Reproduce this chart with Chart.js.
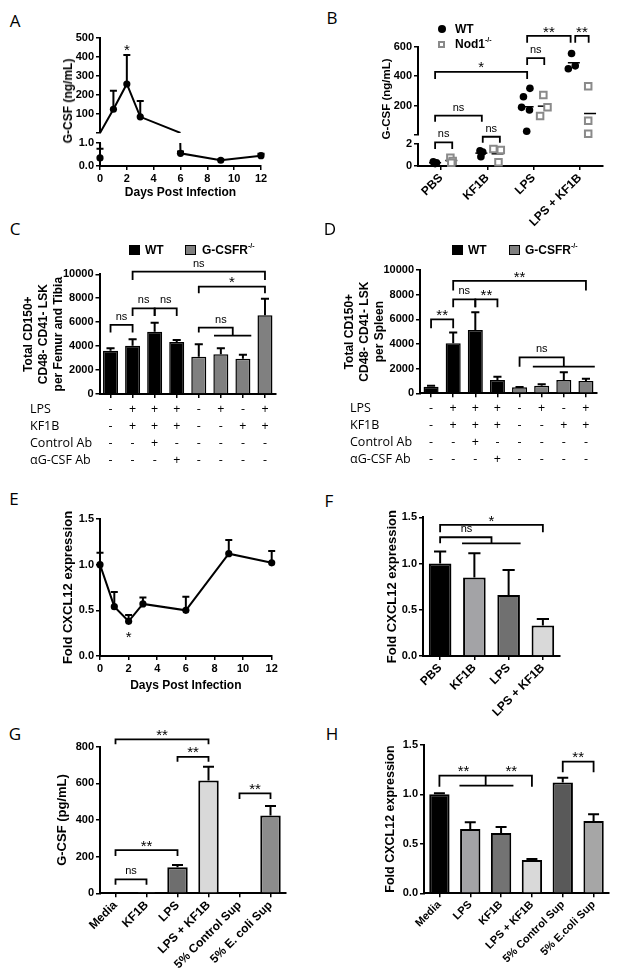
<!DOCTYPE html>
<html><head><meta charset="utf-8">
<script src="https://cdn.jsdelivr.net/npm/chart.js@4.4.1/dist/chart.umd.min.js"></script>
<style>
html,body{margin:0;padding:0;background:#fff;}
#fig{position:relative;width:617px;height:974px;overflow:hidden;background:#fff;}
#fig canvas{position:absolute;}
.pl{position:absolute;font-family:'Open Sans',sans-serif;font-size:17px;line-height:1;color:#000;transform:translate(-50%,-50%);}
.yt{position:absolute;font-family:'Liberation Sans',Arial,sans-serif;font-weight:bold;white-space:nowrap;line-height:1;transform:translate(-50%,-50%) rotate(-90deg);}
.lg{position:absolute;font-family:'Liberation Sans',Arial,sans-serif;font-weight:bold;font-size:12px;white-space:nowrap;line-height:1;transform:translateY(-50%);}
.lg sup{font-size:7px;vertical-align:top;position:relative;top:-2px;}
.sw{position:absolute;box-sizing:border-box;}
</style></head>
<body><div id="fig"></div>
<script>
// ================= DATA =================
// Panel A : serum G-CSF (ng/mL) over days post infection
const daysA = [0, 1, 2, 3, 6, 9, 12];
const gcsfSerum = [0.35, 125, 258, 85, 0.55, 0.25, 0.45];
const gcsfSerumErr = [0.4, 97, 152, 83, 0.08, 0.03, 0.08];

// Panel B : G-CSF (ng/mL), WT vs Nod1-/-
const groupsB = ['PBS', 'KF1B', 'LPS', 'LPS + KF1B'];
const wtB = [[0.38, 0.30, 0.22], [1.39, 1.27, 0.85], [317, 260, 188, 170, 25], [554, 470, 450]];
const wtBJitter = [[-0.17, -0.10, -0.13], [-0.16, -0.10, -0.14], [-0.08, -0.22, -0.26, -0.09, -0.15], [-0.18, -0.10, -0.25]];
const nodB = [[0.75, 0.45, 0.30], [1.55, 1.45, 0.33], [271, 188, 129], [332, 97, 8]];
const nodBJitter = [[0.20, 0.25, 0.22], [0.13, 0.29, 0.24], [0.21, 0.30, 0.14], [0.18, 0.18, 0.18]];
const wtBMean = [0.30, 1.17, 192, 491];
const nodBMean = [0.50, 1.11, 196, 146];
const meanJitterB = [-0.13, 0.22];

// Panels C, D : treatment table
const rowNamesCD = ['LPS', 'KF1B', 'Control Ab', 'αG-CSF Ab'];
const lpsRow =    ['-', '+', '+', '+', '-', '+', '-', '+'];
const kf1bRow =   ['-', '+', '+', '+', '-', '-', '+', '+'];
const ctrlAbRow = ['-', '-', '+', '-', '-', '-', '-', '-'];
const antiAbRow = ['-', '-', '-', '+', '-', '-', '-', '-'];
const genotypeCD = ['WT', 'WT', 'WT', 'WT', 'G-CSFR-/-', 'G-CSFR-/-', 'G-CSFR-/-', 'G-CSFR-/-'];
const hscFemur =    [3620, 4040, 5210, 4350, 3120, 3320, 2950, 6580];
const hscFemurErr = [200, 530, 750, 170, 1030, 500, 330, 1370];
const hscSpleen =    [540, 4050, 5140, 1080, 490, 620, 1080, 1000];
const hscSpleenErr = [80, 890, 1430, 270, 30, 110, 620, 190];

// Panel E : CXCL12 over days
const daysE = [0, 1, 2, 3, 6, 9, 12];
const cxclDays = [1.0, 0.54, 0.38, 0.57, 0.50, 1.12, 1.02];
const cxclDaysErr = [0.13, 0.16, 0.07, 0.07, 0.15, 0.15, 0.13];

// Panel F
const labelsF = ['PBS', 'KF1B', 'LPS', 'LPS + KF1B'];
const cxclF = [1.0, 0.85, 0.66, 0.33];
const cxclFErr = [0.13, 0.26, 0.27, 0.07];

// Panel G
const labelsG = ['Media', 'KF1B', 'LPS', 'LPS + KF1B', '5% Control Sup', '5% E. coli Sup'];
const gcsfG = [3, 2, 142, 615, 0, 424];
const gcsfGErr = [1, 1, 13, 76, 0, 52];

// Panel H
const labelsH = ['Media', 'LPS', 'KF1B', 'LPS + KF1B', '5% Control Sup', '5% E.coli Sup'];
const cxclH = [1.0, 0.65, 0.61, 0.337, 1.118, 0.73];
const cxclHErr = [0.01, 0.067, 0.06, 0.01, 0.05, 0.068];

// Significance annotations (data units: x = category index, y = axis value)
const sigA = {texts: [{x: 2, y: 455, t: '*'}]};
const sigBLow = {brackets: [
  {x1: -0.13, x2: 0.24, y: 2.15, l1: 1.55, l2: 1.55, t: 'ns'},
  {x1: 0.90, x2: 1.27, y: 2.66, l1: 2.12, l2: 2.12, t: 'ns'}]};
const sigBHigh = {brackets: [
  {x1: -0.13, x2: 0.88, y: 131, l1: 90, l2: 90, t: 'ns'},
  {x1: -0.13, x2: 1.86, y: 429, l1: 380, l2: 380, t: '*'},
  {x1: 1.86, x2: 2.23, y: 522, l1: 475, l2: 475, t: 'ns'},
  {x1: 1.86, x2: 2.80, y: 673, l1: 626, l2: 626, t: '**'},
  {x1: 2.90, x2: 3.19, y: 673, l1: 626, l2: 626, t: '**'}]};
const sigC = {brackets: [
  {x1: 0, x2: 1, y: 5770, l1: 5130, l2: 5130, t: 'ns'},
  {x1: 1, x2: 2, y: 7160, l1: 6520, l2: 6520, t: 'ns'},
  {x1: 2, x2: 3, y: 7160, l1: 6520, l2: 6520, t: 'ns'},
  {x1: 4, x2: 5.54, y: 5540, l1: 5130, l2: 4875, t: 'ns', tx: 5.0},
  {x1: 4, x2: 7, y: 8970, l1: 8410, l2: 8410, t: '*'},
  {x1: 1, x2: 7, y: 10220, l1: 9530, l2: 9530, t: 'ns'}],
  hlines: [{x1: 4.69, x2: 6.38, y: 4875}]};
const sigD = {brackets: [
  {x1: 0, x2: 1, y: 6000, l1: 5270, l2: 5270, t: '**'},
  {x1: 1, x2: 2, y: 7620, l1: 6970, l2: 6970, t: 'ns'},
  {x1: 2, x2: 3, y: 7620, l1: 6970, l2: 6970, t: '**'},
  {x1: 1, x2: 7, y: 9110, l1: 8330, l2: 8330, t: '**'},
  {x1: 4, x2: 6, y: 2920, l1: 2160, l2: 2160, t: 'ns'}],
  hlines: [{x1: 4.6, x2: 7.4, y: 2160}]};
const sigE = {texts: [{x: 2, y: 0.25, t: '*'}]};
const sigF = {brackets: [
  {x1: 0, x2: 3, y: 1.417, l1: 1.338, l2: 1.338, t: '*'},
  {x1: 0, x2: 1.5, y: 1.284, l1: 1.219, l2: 1.219, t: 'ns', tx: 0.77}],
  hlines: [{x1: 0.64, x2: 2.35, y: 1.219}]};
const sigG = {brackets: [
  {x1: 0, x2: 3, y: 840, l1: 814, l2: 814, t: '**'},
  {x1: 2, x2: 3, y: 745, l1: 718, l2: 718, t: '**'},
  {x1: 4, x2: 5, y: 545, l1: 514, l2: 514, t: '**'},
  {x1: 0, x2: 2, y: 236, l1: 204, l2: 204, t: '**'},
  {x1: 0, x2: 1, y: 76, l1: 46, l2: 46, t: 'ns'}]};
const sigH = {brackets: [
  {x1: 0, x2: 3, y: 1.189, l1: 1.077, l2: 1.077},
  {x1: 4, x2: 5, y: 1.33, l1: 1.222, l2: 1.222, t: '**'}],
  hlines: [{x1: 0.65, x2: 2.4, y: 1.087}],
  vlines: [{x: 1.5, y1: 1.189, y2: 1.087}],
  texts: [{x: 0.78, y: 1.189, t: '**', above: true}, {x: 2.33, y: 1.189, t: '**', above: true}]};

// ================= STYLE / HELPERS =================
const FONT = "'Liberation Sans', Arial, Helvetica, sans-serif";
Chart.defaults.font.family = FONT;
Chart.defaults.color = '#000';
Chart.defaults.plugins.legend.display = false;
Chart.defaults.plugins.tooltip.enabled = false;
const genoColor = {'WT': '#000000', 'G-CSFR-/-': '#808080'};
const fig = document.getElementById('fig');

function makeChart(box, area, cfg) {
  const cv = document.createElement('canvas');
  cv.width = box.w; cv.height = box.h;
  Object.assign(cv.style, {left: box.x + 'px', top: box.y + 'px', width: box.w + 'px', height: box.h + 'px'});
  fig.appendChild(cv);
  const o = cfg.options;
  o.responsive = false; o.maintainAspectRatio = false; o.animation = false; o.devicePixelRatio = 1; o.events = [];
  const xShown = o.scales.x.display !== false;
  o.layout = {padding: {left: 0, top: area.t - box.y, right: box.x + box.w - area.r, bottom: xShown ? 0 : box.y + box.h - area.b}};
  o.scales.y.afterFit = s => { s.width = area.l - box.x; };
  if (xShown) o.scales.x.afterFit = s => { s.height = box.y + box.h - area.b; };
  return new Chart(cv, cfg);
}
const gridOpts = (offset) => ({offset, drawOnChartArea: false, drawTicks: true, tickLength: 4, color: '#000', lineWidth: 1.5});
const borderOpts = {display: true, color: '#000', width: 2};
function axisY(min, max, step, fmt, title) {
  return {type: 'linear', position: 'left', min, max,
    ticks: {stepSize: step, font: {size: 11, weight: 'bold'}, padding: 2, color: '#000', callback: fmt},
    grid: gridOpts(false), border: borderOpts, title: title || {display: false}};
}
function yTitle(text, size, lh, padTop) {
  return {display: true, text, color: '#000', font: {size, weight: 'bold', lineHeight: lh}, padding: {top: padTop, bottom: 0}};
}
function axisXBar(show, rot, size) {
  return {type: 'category', offset: true,
    ticks: {display: show, autoSkip: false, minRotation: rot, maxRotation: rot, font: {size, weight: 'bold'}, padding: 1, color: '#000'},
    grid: gridOpts(false), border: borderOpts};
}
function axisXDays(show) {
  return {type: 'linear', min: 0, max: 12, display: show,
    afterBuildTicks: s => { s.ticks = daysTicks.map(v => ({value: v})); },
    ticks: {autoSkip: false, maxRotation: 0, font: {size: 11, weight: 'bold'}, padding: 2, color: '#000'},
    grid: gridOpts(false), border: borderOpts,
    title: {display: true, text: 'Days Post Infection', color: '#000', font: {size: 12, weight: 'bold'}, padding: {top: 0, bottom: 2}}};
}
const daysTicks = [0, 2, 4, 6, 8, 10, 12];
const fmt1 = v => v.toFixed(1);
const fmtInt = v => String(v);
const fmtNoZero = v => v === 0 ? '' : String(v);

function drawMark(ctx, t, x, yc) {
  const star = t.indexOf('*') >= 0;
  const size = star ? 15 : 11;
  ctx.font = size + 'px ' + FONT;
  ctx.fillStyle = '#000'; ctx.textAlign = 'center'; ctx.textBaseline = 'alphabetic';
  ctx.fillText(t, x, yc + (star ? 0.57 : 0.26) * size);
}
const errorBars = {
  id: 'errorBars',
  afterDatasetsDraw(chart) {
    const ctx = chart.ctx, ys = chart.scales.y, a = chart.chartArea;
    chart.data.datasets.forEach((ds, di) => {
      if (!ds.errors) return;
      const meta = chart.getDatasetMeta(di);
      ctx.save();
      ctx.beginPath(); ctx.rect(a.left - 12, a.top - 2, a.right - a.left + 24, a.bottom - a.top + 2); ctx.clip();
      ctx.strokeStyle = '#000'; ctx.lineWidth = 2;
      meta.data.forEach((el, i) => {
        const raw = ds.data[i]; const v = typeof raw === 'object' ? raw.y : raw; const e = ds.errors[i];
        if (!e || v < ys.min + (ys.max - ys.min) * 0.02 || v > ys.max) return;
        const y0 = ys.getPixelForValue(v), y1 = ys.getPixelForValue(v + e);
        const cap = el.width ? el.width * 0.27 : 3.5;
        ctx.beginPath(); ctx.moveTo(el.x, y0); ctx.lineTo(el.x, y1);
        ctx.moveTo(el.x - cap, y1); ctx.lineTo(el.x + cap, y1); ctx.stroke();
      });
      ctx.restore();
    });
  }
};
function marks(sig) {
  return {id: 'marks', afterDraw(chart) {
    const ctx = chart.ctx, xs = chart.scales.x, ys = chart.scales.y;
    const px = v => xs.getPixelForValue(v), py = v => ys.getPixelForValue(v);
    ctx.save(); ctx.strokeStyle = '#000'; ctx.lineWidth = 1.8; ctx.lineJoin = 'miter'; ctx.lineCap = 'butt';
    (sig.brackets || []).forEach(b => {
      ctx.beginPath(); ctx.moveTo(px(b.x1), py(b.l1)); ctx.lineTo(px(b.x1), py(b.y));
      ctx.lineTo(px(b.x2), py(b.y)); ctx.lineTo(px(b.x2), py(b.l2)); ctx.stroke();
      if (b.t) drawMark(ctx, b.t, px(b.tx !== undefined ? b.tx : (b.x1 + b.x2) / 2), py(b.y) - 8);
    });
    (sig.hlines || []).forEach(l => { ctx.beginPath(); ctx.moveTo(px(l.x1), py(l.y)); ctx.lineTo(px(l.x2), py(l.y)); ctx.stroke(); });
    (sig.vlines || []).forEach(l => { ctx.beginPath(); ctx.moveTo(px(l.x), py(l.y1)); ctx.lineTo(px(l.x), py(l.y2)); ctx.stroke(); });
    (sig.texts || []).forEach(t => drawMark(ctx, t.t, px(t.x), py(t.y) - (t.above ? 8 : 0)));
    ctx.restore();
  }};
}
function conditions(rows, headerX) {
  return {id: 'conditions', afterDraw(chart) {
    const ctx = chart.ctx, xs = chart.scales.x, a = chart.chartArea;
    ctx.save(); ctx.fillStyle = '#000'; ctx.font = "12.5px 'Open Sans', sans-serif"; ctx.textBaseline = 'middle';
    rows.forEach((row, r) => {
      const y = a.bottom + 15 + r * 17;
      ctx.textAlign = 'left'; ctx.fillText(rowNamesCD[r], headerX, y);
      ctx.textAlign = 'center';
      row.forEach((s, i) => ctx.fillText(s, xs.getPixelForValue(i), y));
    });
    ctx.restore();
  }};
}

// ================= PANEL A (broken axis: two stacked charts) =================
const ptsA = daysA.map((d, i) => ({x: d, y: gcsfSerum[i]}));
function lineDataset(points, errs, radiusFn, segFn, clip) {
  return {data: points, errors: errs, borderColor: '#000', backgroundColor: '#000', borderWidth: 2,
    pointRadius: radiusFn, pointBorderWidth: 0, tension: 0, clip,
    segment: segFn ? {borderColor: segFn} : undefined};
}
makeChart({x: 40, y: 25, w: 240, h: 118}, {l: 100, t: 38, r: 261, b: 133}, {
  type: 'line',
  data: {datasets: [lineDataset(ptsA, gcsfSerumErr, c => c.raw.y < 10 ? 0 : 3.6,
    c => (c.p0.parsed.y < 10 && c.p1.parsed.y < 10) ? 'rgba(0,0,0,0)' : '#000', {left: 6, right: 6, top: 0, bottom: 0})]},
  options: {scales: {x: Object.assign(axisXDays(false), {display: false}), y: axisY(0, 500, 100, fmtNoZero)}},
  plugins: [errorBars, marks(sigA)]
});
makeChart({x: 40, y: 133, w: 240, h: 69}, {l: 100, t: 143, r: 261, b: 166}, {
  type: 'line',
  data: {datasets: [lineDataset(ptsA, gcsfSerumErr, c => c.raw.y > 1 ? 0 : 3.6,
    c => (c.p0.parsed.y > 1 && c.p1.parsed.y > 1) ? 'rgba(0,0,0,0)' : '#000', {left: 6, right: 6, top: 0, bottom: 0})]},
  options: {scales: {x: axisXDays(true), y: axisY(0, 1, 0.5, fmt1)}},
  plugins: [errorBars]
});

// ================= PANEL B (broken axis scatter) =================
function groupPoints(vals, jit, keep) {
  const out = [];
  vals.forEach((g, gi) => g.forEach((v, k) => { if (keep(v)) out.push({x: gi + jit[gi][k], y: v}); }));
  return out;
}
const meanPoints = (means, off, keep) => means.map((m, gi) => ({x: gi + off, y: m})).filter(p => keep(p.y));
function bChart(box, area, keep, yAx, showX, sig) {
  return makeChart(box, area, {
    type: 'scatter',
    data: {datasets: [
      {data: groupPoints(wtB, wtBJitter, keep), pointStyle: 'circle', pointRadius: 3.8, backgroundColor: '#000', borderColor: '#000', borderWidth: 0, clip: false},
      {data: groupPoints(nodB, nodBJitter, keep), pointStyle: 'rect', pointRadius: 4.6, backgroundColor: '#fff', borderColor: '#8a8a8a', borderWidth: 2, clip: false},
      {data: meanPoints(wtBMean, meanJitterB[0], keep), pointStyle: 'line', pointRadius: 6, borderColor: '#000', borderWidth: 1.5, clip: false},
      {data: meanPoints(nodBMean, meanJitterB[1], keep), pointStyle: 'line', pointRadius: 6, borderColor: '#000', borderWidth: 1.5, clip: false}
    ]},
    options: {scales: {
      x: {type: 'linear', min: -0.5, max: 3.5, display: showX,
        afterBuildTicks: s => { s.ticks = groupsB.map((_, i) => ({value: i})); },
        ticks: {autoSkip: false, minRotation: 45, maxRotation: 45, font: {size: 12, weight: 'bold'}, padding: 1, color: '#000',
          callback: v => groupsB[v] !== undefined ? groupsB[v] : ''},
        grid: gridOpts(false), border: borderOpts},
      y: yAx}},
    plugins: [marks(sig)]
  });
}
bChart({x: 370, y: 18, w: 247, h: 127}, {l: 418, t: 46.7, r: 603, b: 135}, v => v > 2, axisY(0, 600, 200, fmtNoZero), false, sigBHigh);
bChart({x: 370, y: 125, w: 247, h: 105}, {l: 418, t: 144, r: 603, b: 166}, v => v <= 2, axisY(0, 2, 1, fmtInt), true, sigBLow);

// ================= PANELS C, D =================
const condRows = [lpsRow, kf1bRow, ctrlAbRow, antiAbRow];
function cdChart(box, area, vals, errs, title, padTop, sig) {
  return makeChart(box, area, {
    type: 'bar',
    data: {labels: lpsRow.map((_, i) => 'Group ' + (i + 1)),
      datasets: [{data: vals, errors: errs, backgroundColor: genotypeCD.map(g => genoColor[g]), borderColor: '#000', borderWidth: 1.5,
        barPercentage: 0.68, categoryPercentage: 1}]},
    options: {scales: {x: axisXBar(false, 0, 11), y: axisY(0, 10000, 2000, fmtInt, yTitle(title, 12, 1.25, padTop))}},
    plugins: [errorBars, marks(sig), conditions(condRows, 20)]
  });
}
cdChart({x: 10, y: 254, w: 280, h: 220}, {l: 99.5, t: 274.3, r: 276, b: 394}, hscFemur, hscFemurErr,
  ['Total CD150+', 'CD48- CD41- LSK', 'per Femur and Tibia'], 10.8, sigC);
cdChart({x: 330, y: 254, w: 287, h: 220}, {l: 420, t: 270, r: 597, b: 393.3}, hscSpleen, hscSpleenErr,
  ['Total CD150+', 'CD48- CD41- LSK', 'per Spleen'], 12.5, sigD);

// ================= PANEL E =================
makeChart({x: 40, y: 508, w: 250, h: 187}, {l: 100, t: 519, r: 271.7, b: 656}, {
  type: 'line',
  data: {datasets: [lineDataset(daysE.map((d, i) => ({x: d, y: cxclDays[i]})), cxclDaysErr, 3.6, null, false)]},
  options: {scales: {x: axisXDays(true), y: axisY(0, 1.5, 0.5, fmt1, yTitle('Fold CXCL12 expression', 13, 1.2, 20.2))}},
  plugins: [errorBars, marks(sigE)]
});

// ================= PANELS F, G, H =================
function barChart(box, area, labels, vals, errs, colors, yAx, labelSize, sig) {
  return makeChart(box, area, {
    type: 'bar',
    data: {labels, datasets: [{data: vals, errors: errs, backgroundColor: colors, borderColor: '#000', borderWidth: 2,
      barPercentage: 0.66, categoryPercentage: 1}]},
    options: {scales: {x: axisXBar(true, 45, labelSize), y: yAx}},
    plugins: [errorBars, marks(sig)]
  });
}
barChart({x: 370, y: 505, w: 247, h: 215}, {l: 423, t: 517.3, r: 560, b: 656}, labelsF, cxclF, cxclFErr,
  ['#000000', '#a3a3a6', '#707070', '#d9d9d9'],
  axisY(0, 1.5, 0.5, fmt1, yTitle('Fold CXCL12 expression', 13, 1.2, 14.9)), 12, sigF);
barChart({x: 28, y: 722, w: 272, h: 252}, {l: 100, t: 746.7, r: 286, b: 893.3}, labelsG, gcsfG, gcsfGErr,
  ['#000000', '#a6a6a6', '#6e6e6e', '#d9d9d9', '#595959', '#8c8c8c'],
  axisY(0, 800, 200, fmtInt, yTitle('G-CSF (pg/mL)', 13, 1.2, 26.5)), 12, sigG);
barChart({x: 370, y: 722, w: 247, h: 252}, {l: 424, t: 744.8, r: 609, b: 893.3}, labelsH, cxclH, cxclHErr,
  ['#000000', '#a3a3a6', '#737373', '#d9d9d9', '#595959', '#a6a6a6'],
  axisY(0, 1.5, 0.5, fmt1, yTitle('Fold CXCL12 expression', 12.5, 1.2, 13.2)), 11, sigH);

// ================= HTML TEXT: panel letters, split-axis titles, legends =================
function addDiv(cls, html, css) {
  const d = document.createElement('div'); d.className = cls; d.innerHTML = html;
  Object.assign(d.style, css); fig.appendChild(d); return d;
}
[['A', 15, 20], ['B', 332, 17], ['C', 15, 228], ['D', 330, 228], ['E', 14, 498], ['F', 329, 500], ['G', 15, 733], ['H', 332, 733]]
  .forEach(([t, x, y]) => addDiv('pl', t, {left: x + 'px', top: y + 'px'}));
addDiv('yt', 'G-CSF (ng/mL)', {left: '68px', top: '101px', fontSize: '12px'});
addDiv('yt', 'G-CSF (ng/mL)', {left: '387px', top: '99px', fontSize: '11.5px'});
// legend B
addDiv('sw', '', {left: '437.5px', top: '25px', width: '8px', height: '8px', borderRadius: '50%', background: '#000'});
addDiv('lg', 'WT', {left: '455px', top: '29px'});
addDiv('sw', '', {left: '438px', top: '40.5px', width: '7px', height: '7px', border: '2px solid #8a8a8a', background: '#fff'});
addDiv('lg', 'Nod1<sup>-/-</sup>', {left: '455px', top: '44px'});
// legends C, D
[[129, 145, 184.5, 202], [452, 468, 508.5, 525]].forEach(([s1, t1, s2, t2]) => {
  addDiv('sw', '', {left: s1 + 'px', top: '244.5px', width: '11px', height: '10px', background: genoColor['WT']});
  addDiv('lg', 'WT', {left: t1 + 'px', top: '249.5px'});
  addDiv('sw', '', {left: s2 + 'px', top: '244.5px', width: '11px', height: '10px', background: genoColor['G-CSFR-/-'], border: '1.5px solid #000'});
  addDiv('lg', 'G-CSFR<sup>-/-</sup>', {left: t2 + 'px', top: '249.5px'});
});
</script>
</body></html>
